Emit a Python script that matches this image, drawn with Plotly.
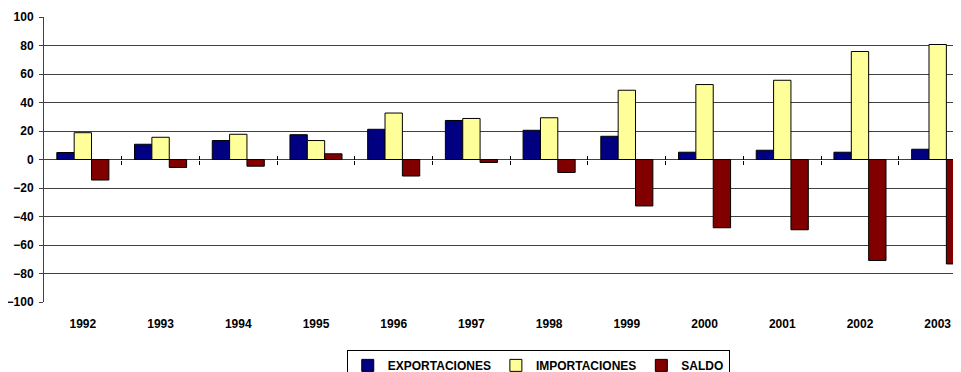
import plotly.graph_objects as go

years = ["1992", "1993", "1994", "1995", "1996", "1997", "1998", "1999", "2000", "2001", "2002", "2003"]
exportaciones = [4.9, 10.7, 13.3, 17.4, 21.2, 27.4, 20.5, 16.3, 5.1, 6.5, 5.1, 7.2]
importaciones = [18.8, 15.6, 17.7, 13.3, 32.6, 28.8, 29.3, 48.6, 52.6, 55.6, 75.8, 80.7]
saldo = [-14.4, -5.6, -4.7, 4.0, -11.6, -2.1, -9.1, -32.6, -47.9, -49.3, -70.9, -73.3]
y_ticks = [-100, -80, -60, -40, -20, 0, 20, 40, 60, 80, 100]

FONT = "Liberation Sans, Arial, sans-serif"
line = dict(color="black", width=1)
GRID = "#404040"

fig = go.Figure()
fig.add_bar(name="<b>EXPORTACIONES</b>", x=years, y=exportaciones, marker=dict(color="#000080", line=line))
fig.add_bar(name="<b>IMPORTACIONES</b>", x=years, y=importaciones, marker=dict(color="#FFFF99", line=line))
fig.add_bar(name="<b>SALDO</b>", x=years, y=saldo, marker=dict(color="#800000", line=line))

xr = [-0.5, 11.3]
bounds = [i + 0.5 for i in range(len(years))]
# page body has an 8px margin, so the figure is 8px smaller than the window
fig.update_layout(
    width=953, height=364,
    margin=dict(l=36, r=0, t=9, b=70, autoexpand=False),
    paper_bgcolor="white", plot_bgcolor="white",
    barmode="group", bargap=0.33, bargroupgap=0,
    font=dict(family=FONT, size=12, color="black"),
    xaxis=dict(type="category", range=xr, showgrid=False, showline=False, ticks="",
               tickfont=dict(family=FONT, size=12, color="black", weight="bold"),
               ticklabelstandoff=13, zeroline=False, automargin=False),
    xaxis2=dict(overlaying="x", anchor="free", position=0.5, range=xr,
                tickvals=bounds, showticklabels=False,
                ticks="outside", ticklen=4, tickcolor="black", showgrid=False,
                showline=False, zeroline=False, automargin=False),
    xaxis3=dict(overlaying="x", anchor="free", position=0.5, range=xr,
                tickvals=bounds, showticklabels=False,
                ticks="inside", ticklen=4, tickcolor="black", showgrid=False,
                showline=False, zeroline=False, automargin=False),
    yaxis=dict(range=[-100, 100], tickvals=y_ticks, showgrid=True, gridcolor=GRID,
               gridwidth=1, zeroline=True, zerolinecolor=GRID, zerolinewidth=1,
               showline=True, linecolor=GRID, linewidth=1,
               ticks="outside", ticklen=4, tickcolor=GRID, automargin=False,
               ticklabelstandoff=3,
               tickfont=dict(family=FONT, size=12, color="black", weight="bold")),
    legend=dict(orientation="h", x=0.539, xanchor="center", y=-0.168, yanchor="top",
                bordercolor="black", borderwidth=1, bgcolor="white",
                font=dict(family=FONT, size=12, color="black"),
                itemwidth=30, traceorder="normal", tracegroupgap=0),
    showlegend=True,
)
# invisible helper traces that activate the cross-tick overlay axes
fig.add_scatter(x=[0], y=[0], xaxis="x2", mode="markers", marker=dict(opacity=0), showlegend=False, hoverinfo="skip")
fig.add_scatter(x=[0], y=[0], xaxis="x3", mode="markers", marker=dict(opacity=0), showlegend=False, hoverinfo="skip")

fig.write_html("out.html")
